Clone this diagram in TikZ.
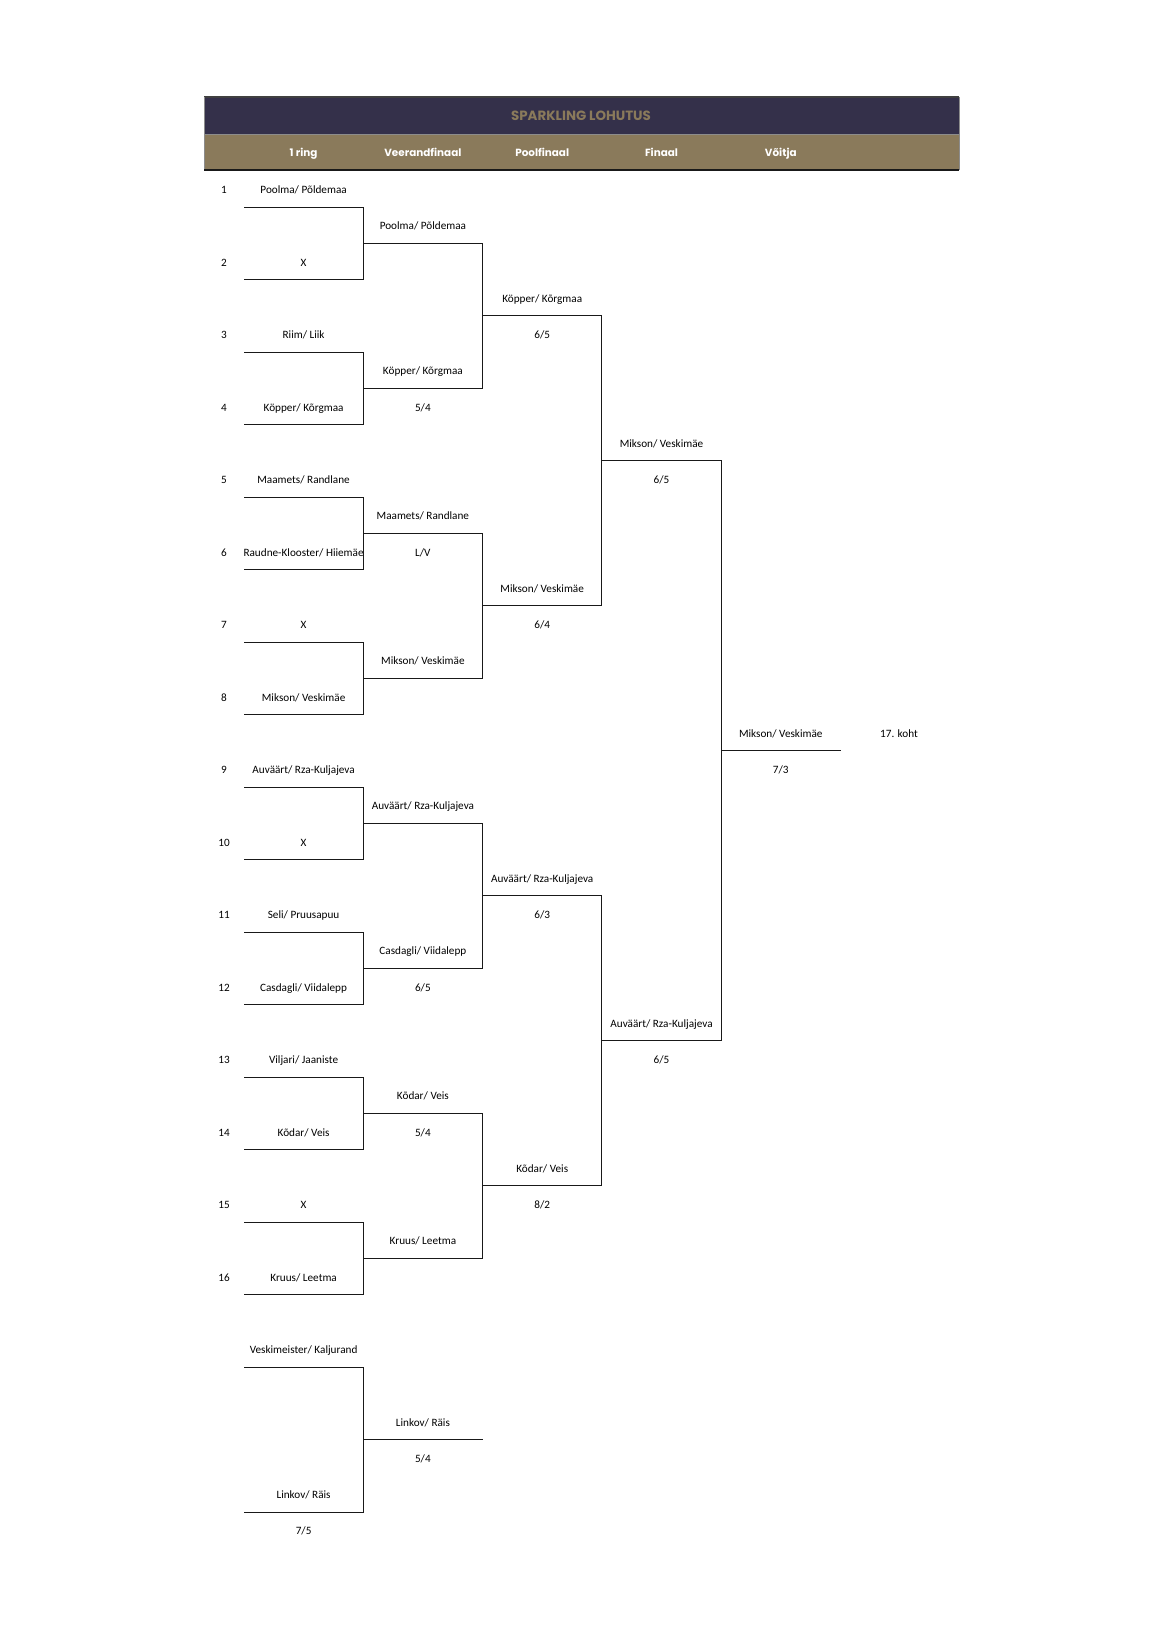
\documentclass[tikz,border=0pt]{standalone}
\usepackage{fontspec}
\setmainfont{Carlito}
\newfontfamily\hdfont{Poppins}
\definecolor{navy}{HTML}{34304A}
\definecolor{gold}{HTML}{8A7A5B}
\newcommand\nm[4]{\node[txt] (#1) at (#2,{193.6+(#3)*36.25}) {#4};}
\newcommand\hl[3]{\draw[bl] (#1,{207+(#3)*36.25}) -- (#2,{207+(#3)*36.25});}
\newcommand\vl[3]{\draw[bl] (#1,{207+(#2)*36.25}) -- (#1,{207+(#3)*36.25});}
\begin{document}
\begin{tikzpicture}[x=0.5pt,y=-0.5pt,
  txt/.style={font=\fontsize{5.6}{6}\selectfont, inner sep=0pt, anchor=base},
  colhead/.style={font=\hdfont\bfseries\fontsize{5.2}{6}\selectfont, text=white, inner sep=0pt, anchor=base},
  bl/.style={line width=0.45pt, black!90, line cap=rect}]
\useasboundingbox (0,0) rectangle (1164,1650);
% header
\fill[navy] (204,97) rectangle (959,134);
\fill[gold] (204,134) rectangle (959,170);
\draw[line width=0.8pt, black!75] (204,97) -- (959,97);
\draw[line width=0.5pt, black!45] (959,97) -- (959,170);
\draw[line width=0.5pt, black!45] (204,97) -- (204,170);
\draw[line width=0.4pt, black!45] (204,134) -- (959,134);
\draw[line width=0.9pt, black!90] (204,170) -- (959,170);
\node[font=\hdfont\bfseries\fontsize{6.7}{7}\selectfont, text=gold, inner sep=0pt, anchor=base] (title) at (581,120.5) {SPARKLING LOHUTUS};
\node[colhead] (h1) at (303.6,156) {1 ring};
\node[colhead] (h2) at (422.9,156) {Veerandfinaal};
\node[colhead] (h3) at (542.2,156) {Poolfinaal};
\node[colhead] (h4) at (661.5,156) {Finaal};
\node[colhead] (h5) at (780.8,156) {Võitja};
% seed numbers
\foreach \i in {1,...,16}{
  \node[txt] (s\i) at (224,{193.6+(\i-1)*72.5}) {\i};
}
% round 1 names
\nm{a1}{303.6}{0}{Poolma/ Põldemaa}
\nm{a2}{303.6}{2}{X}
\nm{a3}{303.6}{4}{Riim/ Liik}
\nm{a4}{303.6}{6}{Köpper/ Kõrgmaa}
\nm{a5}{303.6}{8}{Maamets/ Randlane}
\begin{scope}
\clip (244,{207+9*36.25}) rectangle (363.3,{207+10*36.25});
\nm{a6}{303.6}{10}{Raudne-Klooster/ Hiiemäe}
\end{scope}
\nm{a7}{303.6}{12}{X}
\nm{a8}{303.6}{14}{Mikson/ Veskimäe}
\nm{a9}{303.6}{16}{Auväärt/ Rza-Kuljajeva}
\nm{a10}{303.6}{18}{X}
\nm{a11}{303.6}{20}{Seli/ Pruusapuu}
\nm{a12}{303.6}{22}{Casdagli/ Viidalepp}
\nm{a13}{303.6}{24}{Viljari/ Jaaniste}
\nm{a14}{303.6}{26}{Kõdar/ Veis}
\nm{a15}{303.6}{28}{X}
\nm{a16}{303.6}{30}{Kruus/ Leetma}
% round 1 lines
\foreach \k in {0,2,...,30}{ \hl{244}{363.3}{\k} }
\foreach \j in {0,...,7}{ \vl{363.3}{4*\j}{4*\j+2} }
% round 2
\foreach \j in {0,...,7}{ \hl{363.3}{482.6}{4*\j+1} }
\nm{b1}{422.9}{1}{Poolma/ Põldemaa}
\nm{b2}{422.9}{5}{Köpper/ Kõrgmaa}
\nm{b2s}{422.9}{6}{5/4}
\nm{b3}{422.9}{9}{Maamets/ Randlane}
\nm{b3s}{422.9}{10}{L/V}
\nm{b4}{422.9}{13}{Mikson/ Veskimäe}
\nm{b5}{422.9}{17}{Auväärt/ Rza-Kuljajeva}
\nm{b6}{422.9}{21}{Casdagli/ Viidalepp}
\nm{b6s}{422.9}{22}{6/5}
\nm{b7}{422.9}{25}{Kõdar/ Veis}
\nm{b7s}{422.9}{26}{5/4}
\nm{b8}{422.9}{29}{Kruus/ Leetma}
% round 3
\foreach \m in {0,...,3}{ \vl{482.6}{8*\m+1}{8*\m+5} \hl{482.6}{601.9}{8*\m+3} }
\nm{c1}{542.2}{3}{Köpper/ Kõrgmaa}
\nm{c1s}{542.2}{4}{6/5}
\nm{c2}{542.2}{11}{Mikson/ Veskimäe}
\nm{c2s}{542.2}{12}{6/4}
\nm{c3}{542.2}{19}{Auväärt/ Rza-Kuljajeva}
\nm{c3s}{542.2}{20}{6/3}
\nm{c4}{542.2}{27}{Kõdar/ Veis}
\nm{c4s}{542.2}{28}{8/2}
% round 4
\foreach \n in {0,1}{ \vl{601.9}{16*\n+3}{16*\n+11} \hl{601.9}{721.2}{16*\n+7} }
\nm{d1}{661.5}{7}{Mikson/ Veskimäe}
\nm{d1s}{661.5}{8}{6/5}
\nm{d2}{661.5}{23}{Auväärt/ Rza-Kuljajeva}
\nm{d2s}{661.5}{24}{6/5}
% winner
\vl{721.2}{7}{23}
\hl{721.2}{840.5}{15}
\nm{e1}{780.8}{15}{Mikson/ Veskimäe}
\nm{e1s}{780.8}{16}{7/3}
\nm{place}{899}{15}{17. koht}
% consolation
\hl{244}{363.3}{32}
\hl{244}{363.3}{36}
\vl{363.3}{32}{36}
\hl{363.3}{482.6}{34}
\nm{f1}{303.6}{32}{Veskimeister/ Kaljurand}
\nm{f2}{303.6}{36}{Linkov/ Räis}
\nm{f2s}{303.6}{37}{7/5}
\nm{g1}{422.9}{34}{Linkov/ Räis}
\nm{g1s}{422.9}{35}{5/4}
\end{tikzpicture}
\end{document}
